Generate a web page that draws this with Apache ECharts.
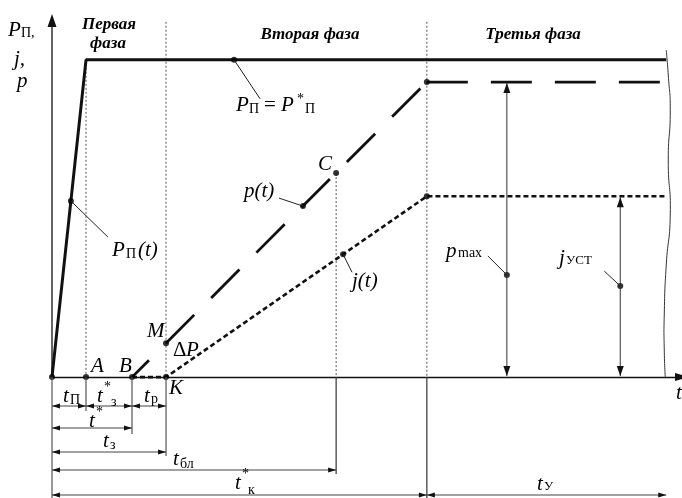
<!DOCTYPE html>
<html>
<head>
<meta charset="utf-8">
<script src="https://cdn.jsdelivr.net/npm/echarts/dist/echarts.min.js"></script>
<style>
  html, body { margin: 0; padding: 0; background: #fff; }
  #chart { width: 682px; height: 498px; }
</style>
</head>
<body>
<div id="chart"></div>
<script>
// Key instants on the t axis: O, A, B, K, C, start of phase 3, right edge
const stageNames = ['O', 'A', 'B', 'K', 'C', 'U', 'E'];
const stageTimes = [0, 5.4, 12.7, 18.1, 45.1, 59.5, 97.5];

// Power P_П(t): fast ramp, then constant P*_П
const powerTimes = [0, 5.4, 97.5];
const powerValues = [0, 100, 100];

// Pressure p(t): rises from B, then holds at p_max
const pressureRiseTimes = [12.7, 59.5];
const pressureRiseValues = [0, 93];
const pressureHoldTimes = [59.5, 97.5];
const pressureHoldValues = [93, 93];

// Flux j(t): zero until K, rises, then settles at j_уст
const fluxTimes = [12.7, 18.1, 59.5, 97.5];
const fluxValues = [0, 0, 57, 57];

// Vertical guides (time, upper value)
const guideTimes = [5.4, 18.1, 45.1, 59.5];
const guideTops = [100, 112, 64.3, 112];

// Marked points
const dotTimes = [0, 5.4, 12.7, 18.1, 18.1, 45.1, 59.5, 59.5, 3.0, 28.9, 39.84, 46.2, 72.2, 90.2];
const dotValues = [0, 0, 0, 0, 10.7, 64.3, 93, 57, 55.5, 100, 53.9, 38.7, 32.2, 28.7];

// Steady levels shown with double arrows
const pMaxTime = 72.2, pMax = 93;
const jSteadyTime = 90.2, jSteady = 57;

const T = Object.fromEntries(stageNames.map((n, i) => [n, stageTimes[i]]));
const pairs = (xs, ys) => xs.map((x, i) => [x, ys[i]]);

const chart = echarts.init(document.getElementById('chart'));

const lineSeries = (data, style, z) => ({
  type: 'line', data, symbol: 'none', silent: true, z: z || 3,
  lineStyle: style, animation: false
});

const series = [];
guideTimes.forEach((t, i) => {
  series.push(lineSeries([[t, guideTops[i]], [t, 0]], { color: '#555', width: 1, type: [2, 2] }, 2));
});
series.push(lineSeries(pairs(powerTimes, powerValues), { color: '#111', width: 3 }, 4));
series.push(lineSeries(pairs(pressureRiseTimes, pressureRiseValues), { color: '#111', width: 2.8, type: [40, 24], dashOffset: 16 }, 4));
series.push(lineSeries(pairs(pressureHoldTimes, pressureHoldValues), { color: '#111', width: 2.8, type: [41, 23] }, 4));
series.push(lineSeries(pairs(fluxTimes, fluxValues), { color: '#111', width: 2.6, type: [5, 3] }, 4));
series.push({
  type: 'scatter', data: pairs(dotTimes, dotValues), symbol: 'circle', symbolSize: 6,
  itemStyle: { color: '#000' }, z: 6, silent: true, animation: false
});

chart.setOption({
  animation: false,
  grid: { left: 52, right: 0, top: 17, bottom: 0, containLabel: false },
  xAxis: {
    type: 'value', min: 0, max: 100,
    axisLine: { onZero: true, symbol: ['none', 'triangle'], symbolSize: [8, 14], lineStyle: { color: '#111', width: 1.3 } },
    axisTick: { show: false }, axisLabel: { show: false }, splitLine: { show: false }
  },
  yAxis: {
    type: 'value', min: -38.1, max: 113.5,
    axisLine: { show: false }, axisTick: { show: false }, axisLabel: { show: false }, splitLine: { show: false }
  },
  series
});

// ---------- annotations ----------
const px = (t, v) => chart.convertToPixel({ gridIndex: 0 }, [t, v]);
const G = [];
const seg = (x1, y1, x2, y2, c, w) => G.push({
  type: 'line', silent: true, z: 10,
  shape: { x1, y1, x2, y2 }, style: { stroke: c || '#222', lineWidth: w || 1 }
});
const tri = (pts) => G.push({ type: 'polygon', silent: true, z: 11, shape: { points: pts }, style: { fill: '#111' } });
function head(x, y, dir, len, hw) {
  len = len || 8; hw = hw || 2.6;
  if (dir === 'l') tri([[x, y], [x + len, y - hw], [x + len, y + hw]]);
  if (dir === 'r') tri([[x, y], [x - len, y - hw], [x - len, y + hw]]);
  if (dir === 'u') tri([[x, y], [x - hw, y + len], [x + hw, y + len]]);
  if (dir === 'd') tri([[x, y], [x - hw, y - len], [x + hw, y - len]]);
}
function dimH(x1, x2, y) { seg(x1, y, x2, y, '#444', 1.2); head(x1, y, 'l'); head(x2, y, 'r'); }
function dimV(x, y1, y2) { seg(x, y1, x, y2, '#333', 1); head(x, y1, 'u', 10, 3.5); head(x, y2, 'd', 10, 3.5); }
const FONT = '"Liberation Serif", "Times New Roman", serif';
function addText(x, base, s, size, kind, align) {
  const st = kind === 'i' ? 'italic ' : kind === 'bi' ? 'italic bold ' : '';
  G.push({
    type: 'text', silent: true, z: 12, x: x, y: base - 0.32 * size,
    style: { text: s, font: st + size + 'px ' + FONT, fill: '#000',
      align: align, verticalAlign: 'middle', textAlign: align, textVerticalAlign: 'middle' }
  });
}
const txt = (x, base, s, size, kind) => addText(x, base, s, size, kind, 'left');
const ctxt = (cx, base, s, size, kind) => addText(cx, base, s, size, kind, 'center');

const [x0, y0] = px(0, 0);
const xA = px(T.A, 0)[0], xB = px(T.B, 0)[0], xK = px(T.K, 0)[0];
const xC = px(T.C, 0)[0], xU = px(T.U, 0)[0], xE = px(T.E, 0)[0];

// vertical axis with arrow, and its extension below the t axis
seg(x0, y0, x0, 27, '#111', 1.3);
head(x0, 14, 'u', 13, 4.5);
seg(x0, y0, x0, 498, '#555', 1.2);

// extension lines below the t axis
seg(xA, y0, xA, 411, '#555', 1.2);
seg(xB, y0, xB, 434, '#555', 1.2);
seg(xK, y0, xK, 456, '#555', 1.2);
seg(xC, y0, xC, 474, '#333', 1.2);
seg(xU, y0, xU, 498, '#333', 1.2);

// dimension lines
dimH(x0, xA, 406); dimH(xA, xB, 406); dimH(xB, xK, 406);
dimH(x0, xB, 428);
dimH(x0, xK, 452);
dimH(x0, xC, 470);
dimH(x0, xU, 495); dimH(xU, xE, 495);

// double arrows for steady levels
const pm = px(pMaxTime, pMax), js = px(jSteadyTime, jSteady);
dimV(pm[0], pm[1] + 1, y0 - 1);
dimV(js[0], js[1] + 1, y0 - 1);

// wavy break at the right edge
G.push({
  type: 'polyline', silent: true, z: 10,
  shape: { smooth: 0.6, points: [[xE, 50], [xE + 2, 75], [xE + 4, 110], [xE + 2, 160], [xE + 4, 215], [xE, 265], [xE - 2, 315], [xE - 2, 350], [xE - 1, y0]] },
  style: { stroke: '#333', lineWidth: 1, fill: null }
});

// leader lines to marked points
const lead = (t, v, dx, dy) => { const p = px(t, v); seg(p[0], p[1], p[0] + dx, p[1] + dy, '#222', 1); };
lead(3.0, 55.5, 37, 36);
lead(28.9, 100, 26, 39);
lead(39.84, 53.9, -24, -8);
lead(46.2, 38.7, 9, 18);
lead(pMaxTime, 32.2, -19, -19);
lead(jSteadyTime, 28.7, -16, -15);

// axis titles
txt(8, 37, 'P', 21, 'i'); txt(21, 38, 'П,', 14, 'r');
txt(14, 66, 'j,', 21, 'i');
txt(17, 88, 'p', 21, 'i');
txt(676, 400, 't', 21, 'i');

// phase titles
ctxt(109, 30, 'Первая', 17, 'bi');
ctxt(108, 49, 'фаза', 17, 'bi');
ctxt(310, 40, 'Вторая фаза', 17, 'bi');
ctxt(533, 40, 'Третья фаза', 17, 'bi');

// curve labels
txt(236, 112, 'P', 21, 'i'); txt(249, 114, 'П', 14, 'r');
txt(264, 112, '=', 21, 'r');
txt(281, 112, 'P', 21, 'i'); txt(297, 104, '*', 14, 'r'); txt(305, 114, 'П', 14, 'r');
txt(112, 257, 'P', 21, 'i'); txt(126, 259, 'П', 14, 'r'); txt(138, 257, '(t)', 21, 'i');
txt(244, 198, 'p(t)', 21, 'i');
txt(318, 171, 'C', 21, 'i');
txt(352, 288, 'j(t)', 21, 'i');
txt(446, 258, 'p', 21, 'i'); txt(458, 258, 'max', 14, 'r');
txt(559, 265, 'j', 21, 'i'); txt(566, 265, 'УСТ', 13, 'r');

// point labels
txt(91, 373, 'A', 21, 'i');
txt(119, 373, 'B', 21, 'i');
txt(147, 338, 'M', 21, 'i');
txt(173, 357, 'Δ', 21, 'r'); txt(186, 357, 'P', 21, 'i');
txt(169, 395, 'K', 21, 'i');

// interval labels
txt(63, 403, 't', 21, 'i'); txt(70, 405, 'П', 14, 'r');
txt(97, 403, 't', 21, 'i'); txt(104, 392, '*', 14, 'r'); txt(111, 407, 'з', 14, 'r');
txt(144, 403, 't', 21, 'i'); txt(151, 404, 'р', 14, 'r');
txt(89, 428, 't', 21, 'i'); txt(96, 417, '*', 14, 'r');
txt(103, 448, 't', 21, 'i'); txt(110, 450, 'з', 14, 'r');
txt(173, 466, 't', 21, 'i'); txt(180, 469, 'бл', 14, 'r');
txt(235, 490, 't', 21, 'i'); txt(242, 479, '*', 14, 'r'); txt(248, 495, 'к', 14, 'r');
txt(537, 491, 't', 21, 'i'); txt(544, 491, 'У', 13, 'r');

chart.setOption({ graphic: { elements: G } });
</script>
</body>
</html>
